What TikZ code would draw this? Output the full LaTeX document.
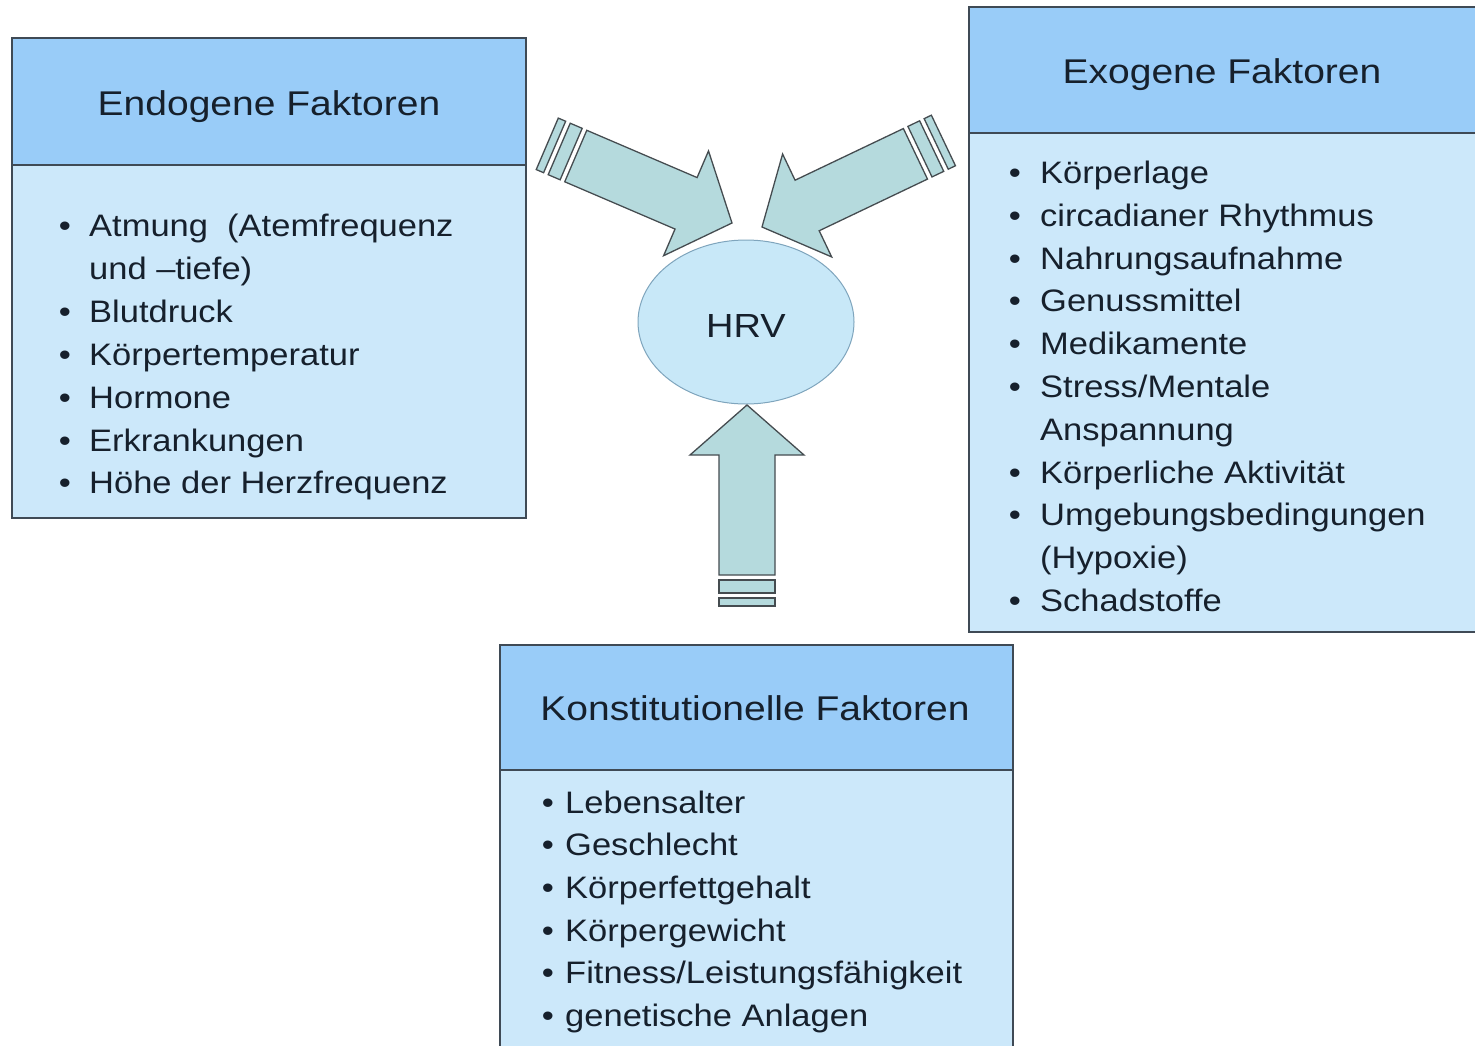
\documentclass[tikz,border=0pt]{standalone}
\usepackage{fontspec}
\setmainfont{Liberation Sans}
\usepackage{graphicx}
\usetikzlibrary{shapes.geometric}
\definecolor{hdrfill}{HTML}{99CCF8}
\definecolor{bodyfill}{HTML}{CCE8FA}
\definecolor{boxline}{HTML}{3F4A55}
\definecolor{txt}{HTML}{16202C}
\definecolor{arrowfill}{HTML}{B5DADD}
\definecolor{arrowline}{HTML}{454C50}
\definecolor{ellfill}{HTML}{C8E8F8}
\definecolor{ellline}{HTML}{7FA5BD}
\newcommand\hvs[1]{\scalebox{1}[0.88]{#1}}
\newcommand\bvs[1]{\scalebox{1}[0.9]{#1}}
\newcommand\hrvarrow{%
  \draw[arr] (-170,-28) -- (-50,-28) -- (-50,-57) -- (0,0) -- (-50,57) -- (-50,28) -- (-170,28) -- cycle;
  \draw[arr] (-188,-28) rectangle (-175,28);
  \draw[arr] (-201,-28) rectangle (-193,28);}
\begin{document}
\begin{tikzpicture}[x=1pt,y=-1pt,
  hdr/.style={draw=boxline, line width=1.5pt, fill=hdrfill, inner sep=0pt, outer sep=0pt, anchor=north west},
  bodybox/.style={draw=boxline, line width=1.5pt, fill=bodyfill, inner sep=0pt, outer sep=0pt, anchor=north west},
  htext/.style={inner sep=0pt, anchor=base, text=txt, font=\fontsize{39}{39}\selectfont},
  item/.style={inner sep=0pt, anchor=base west, text=txt, font=\fontsize{34.5}{34.5}\selectfont},
  bul/.style={inner sep=0pt, anchor=base, text=txt, font=\fontsize{34.5}{34.5}\selectfont},
  arr/.style={draw=arrowline, line width=1.3pt, fill=arrowfill, line join=miter}]
\useasboundingbox (0,0) rectangle (1475,1045);
\fill[white] (0,0) rectangle (1475,1045);

% Endogene box
\node[bodybox, minimum width=514pt, minimum height=353pt] (endoB) at (12,165) {};
\node[hdr, minimum width=514pt, minimum height=127pt] (endoH) at (12,38) {};
\node[htext] (endoT) at (269,115) {\hvs{Endogene Faktoren}};
\node[bul] (eb1) at (65,236) {\bvs{•}};
\node[item] (ei1) at (89,236) {\bvs{Atmung\ \ (Atemfrequenz}};
\node[item] (ei1b) at (89,279) {\bvs{und –tiefe)}};
\node[bul] (eb2) at (65,322) {\bvs{•}};
\node[item] (ei2) at (89,322) {\bvs{Blutdruck}};
\node[bul] (eb3) at (65,365) {\bvs{•}};
\node[item] (ei3) at (89,365) {\bvs{Körpertemperatur}};
\node[bul] (eb4) at (65,408) {\bvs{•}};
\node[item] (ei4) at (89,408) {\bvs{Hormone}};
\node[bul] (eb5) at (65,451) {\bvs{•}};
\node[item] (ei5) at (89,451) {\bvs{Erkrankungen}};
\node[bul] (eb6) at (65,493) {\bvs{•}};
\node[item] (ei6) at (89,493) {\bvs{Höhe der Herzfrequenz}};

% Exogene box
\node[bodybox, minimum width=510pt, minimum height=499pt] (exoB) at (969,133) {};
\node[hdr, minimum width=510pt, minimum height=126pt] (exoH) at (969,7) {};
\node[htext] (exoT) at (1222,83) {\hvs{Exogene Faktoren}};
\node[bul] (xb1) at (1015,183) {\bvs{•}};
\node[item] (xi1) at (1040,183) {\bvs{Körperlage}};
\node[bul] (xb2) at (1015,226) {\bvs{•}};
\node[item] (xi2) at (1040,226) {\bvs{circadianer Rhythmus}};
\node[bul] (xb3) at (1015,269) {\bvs{•}};
\node[item] (xi3) at (1040,269) {\bvs{Nahrungsaufnahme}};
\node[bul] (xb4) at (1015,311) {\bvs{•}};
\node[item] (xi4) at (1040,311) {\bvs{Genussmittel}};
\node[bul] (xb5) at (1015,354) {\bvs{•}};
\node[item] (xi5) at (1040,354) {\bvs{Medikamente}};
\node[bul] (xb6) at (1015,397) {\bvs{•}};
\node[item] (xi6) at (1040,397) {\bvs{Stress/Mentale}};
\node[item] (xi6b) at (1040,440) {\bvs{Anspannung}};
\node[bul] (xb7) at (1015,483) {\bvs{•}};
\node[item] (xi7) at (1040,483) {\bvs{Körperliche Aktivität}};
\node[bul] (xb8) at (1015,525) {\bvs{•}};
\node[item] (xi8) at (1040,525) {\bvs{Umgebungsbedingungen}};
\node[item] (xi8b) at (1040,568) {\bvs{(Hypoxie)}};
\node[bul] (xb9) at (1015,611) {\bvs{•}};
\node[item] (xi9) at (1040,611) {\bvs{Schadstoffe}};

% Konstitutionelle box
\node[bodybox, minimum width=513pt, minimum height=285pt] (konB) at (500,770) {};
\node[hdr, minimum width=513pt, minimum height=125pt] (konH) at (500,645) {};
\node[htext] (konT) at (755,720) {\hvs{Konstitutionelle Faktoren}};
\node[bul] (kb1) at (548,813) {\bvs{•}};
\node[item] (ki1) at (565,813) {\bvs{Lebensalter}};
\node[bul] (kb2) at (548,855) {\bvs{•}};
\node[item] (ki2) at (565,855) {\bvs{Geschlecht}};
\node[bul] (kb3) at (548,898) {\bvs{•}};
\node[item] (ki3) at (565,898) {\bvs{Körperfettgehalt}};
\node[bul] (kb4) at (548,941) {\bvs{•}};
\node[item] (ki4) at (565,941) {\bvs{Körpergewicht}};
\node[bul] (kb5) at (548,983) {\bvs{•}};
\node[item] (ki5) at (565,983) {\bvs{Fitness/Leistungsfähigkeit}};
\node[bul] (kb6) at (548,1026) {\bvs{•}};
\node[item] (ki6) at (565,1026) {\bvs{genetische Anlagen}};

% HRV ellipse
\node[ellipse, draw=ellline, fill=ellfill, line width=1pt, minimum width=216pt, minimum height=164pt, inner sep=0pt] (hrv) at (746,322) {};
\node[htext, font=\fontsize{38}{38}\selectfont] (hrvT) at (746,337) {\hvs{HRV}};

% arrows
\begin{scope}[shift={(732,223)}, rotate=-23.2]
  \hrvarrow
\end{scope}
\begin{scope}[shift={(762,227)}, rotate=205.5]
  \hrvarrow
\end{scope}
\begin{scope}[shift={(747,405)}, rotate=90]
  \hrvarrow
\end{scope}
\end{tikzpicture}
\end{document}
